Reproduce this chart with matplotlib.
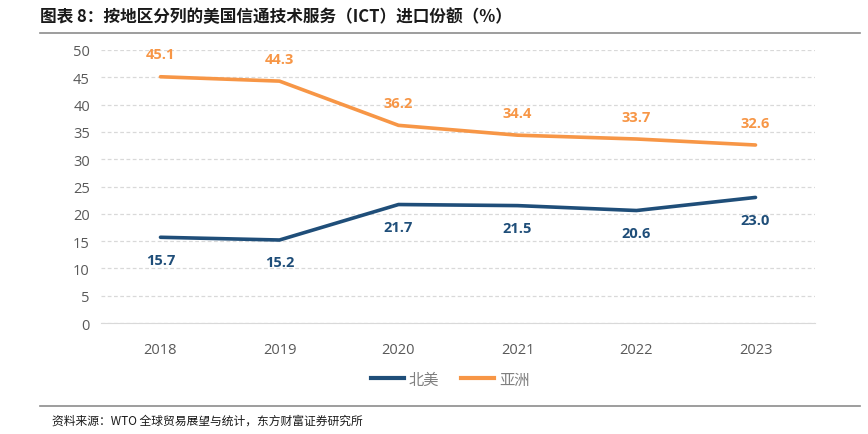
import matplotlib.pyplot as plt
from matplotlib.lines import Line2D

# Data.
years = ['2018', '2019', '2020', '2021', '2022', '2023']
north_america = [15.7, 15.2, 21.7, 21.5, 20.6, 23.0]
asia = [45.1, 44.3, 36.2, 34.4, 33.7, 32.6]
y_ticks = [0, 5, 10, 15, 20, 25, 30, 35, 40, 45, 50]

plt.rcParams['font.family'] = ['Noto Sans CJK SC', 'DejaVu Sans']

BLUE = '#1f4e79'
ORANGE = '#f79646'

fig = plt.figure(figsize=(8.68, 4.35), dpi=100)
ax = fig.add_axes([101 / 868, 1 - 324 / 435, 714 / 868, 273 / 435])

x = list(range(len(years)))
ax.plot(x, north_america, color=BLUE, lw=2.6, solid_capstyle='round')
ax.plot(x, asia, color=ORANGE, lw=2.6, solid_capstyle='round')

# Value labels: orange above, blue below.
for i, v in enumerate(asia):
    ax.annotate(f'{v:.1f}', (i, v), xytext=(0, 11), textcoords='offset points',
                ha='center', va='bottom', color=ORANGE, fontsize=10.5, fontweight='bold',
                family=['Open Sans', 'DejaVu Sans'])
for i, v in enumerate(north_america):
    ax.annotate(f'{v:.1f}', (i, v), xytext=(0, -11), textcoords='offset points',
                ha='center', va='top', color=BLUE, fontsize=10.5, fontweight='bold',
                family=['Open Sans', 'DejaVu Sans'])

ax.set_xlim(-0.5, len(years) - 0.5)
ax.set_ylim(0, 50)
ax.set_yticks(y_ticks)
ax.set_xticks(x)
ax.set_xticklabels(years)
ax.tick_params(axis='both', length=0, labelsize=10.5, colors='#595959', pad=8)
for lab in ax.get_xticklabels() + ax.get_yticklabels():
    lab.set_family(['Open Sans', 'DejaVu Sans'])
ax.tick_params(axis='x', pad=14)

ax.grid(axis='y', color='#d9d9d9', ls=(0, (3, 2)), lw=0.9)
ax.set_axisbelow(True)
for s in ['top', 'right', 'left']:
    ax.spines[s].set_visible(False)
ax.spines['bottom'].set_color('#d9d9d9')

# Legend below the plot.
handles = [Line2D([], [], color=BLUE, lw=3), Line2D([], [], color=ORANGE, lw=3)]
fig.legend(handles, ['北美', '亚洲'], loc='center', bbox_to_anchor=(450 / 868, 1 - 380 / 435),
           ncol=2, frameon=False, fontsize=11, handlelength=2.2, columnspacing=1.4,
           handletextpad=0.3, labelcolor='#808080')

# Title and source with rule lines.
fig.text(40 / 868, 1 - 17 / 435, '图表 8：按地区分列的美国信通技术服务（ICT）进口份额（%）',
         fontsize=12, fontweight='bold', va='center', ha='left', color='#1a1a1a')
fig.add_artist(Line2D([40 / 868, 860 / 868], [1 - 34 / 435, 1 - 34 / 435], color='#8c8c8c', lw=1.2))
fig.add_artist(Line2D([40 / 868, 860 / 868], [1 - 407 / 435, 1 - 407 / 435], color='#8c8c8c', lw=1.2))
fig.text(52 / 868, 1 - 421 / 435, '资料来源：WTO 全球贸易展望与统计，东方财富证券研究所',
         fontsize=8.5, va='center', ha='left', color='#1a1a1a')

fig.savefig('out.png', dpi=100)
